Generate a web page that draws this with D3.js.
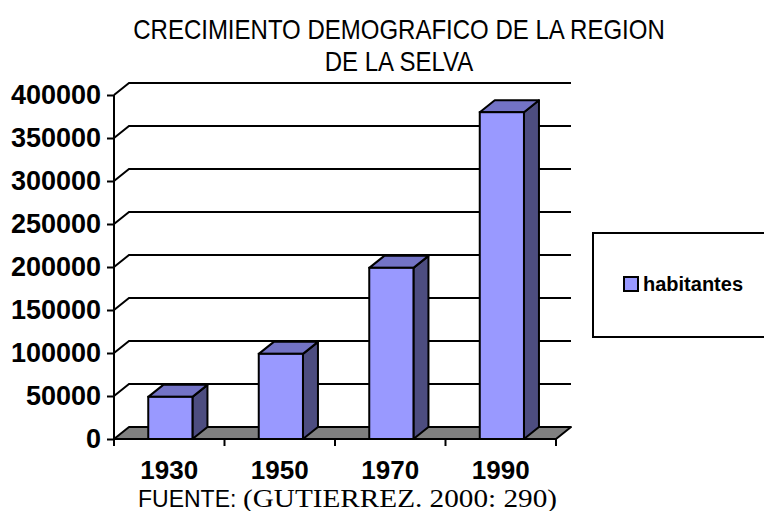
<!DOCTYPE html>
<html>
<head>
<meta charset="utf-8">
<script src="https://cdn.jsdelivr.net/npm/d3@7"></script>
<style>
body { margin: 0; background: #fff; }
svg { display: block; }
</style>
</head>
<body>
<div id="chart"></div>
<script>
// data
var years = ["1930", "1950", "1970", "1990"];
var habitantes = [49000, 99000, 199000, 380000];
var yTicks = [0, 50000, 100000, 150000, 200000, 250000, 300000, 350000, 400000];
var titleLines = ["CRECIMIENTO DEMOGRAFICO DE LA REGION", "DE LA SELVA"];
var seriesName = "habitantes";
var fuenteLabel = "FUENTE:";
var fuenteRef = "(GUTIERREZ. 2000: 290)";

var w = 764, h = 511;
var DX = 15, DY = -12;   // 3d depth offset
var sans = "'Liberation Sans', Arial, sans-serif";
var serif = "'Liberation Serif', 'Times New Roman', serif";

var svg = d3.select("#chart").append("svg")
    .attr("width", w)
    .attr("height", h);

var xScale = d3.scaleBand()
    .domain(years)
    .range([114, 556]);

var yScale = d3.scaleLinear()
    .domain([0, 400000])
    .range([439, 95]);

var y0 = yScale(0);
var xLeft = xScale.range()[0], xRight = xScale.range()[1];

//FLOOR
svg.append("polygon")
    .attr("points", [[xLeft, y0], [xRight, y0], [xRight + DX, y0 + DY], [xLeft + DX, y0 + DY]].join(" "))
    .attr("fill", "#808080")
    .attr("stroke", "#000")
    .attr("stroke-width", 2)
    .attr("stroke-linejoin", "round");

//BACK WALL GRID
svg.append("g")
    .selectAll("path")
    .data(yTicks.filter(function (d) { return d > 0; }))
    .enter().append("path")
    .attr("d", function (d) {
        var yy = yScale(d);
        return "M" + xLeft + "," + yy + "L" + (xLeft + DX) + "," + (yy + DY) + "L" + (xRight + DX) + "," + (yy + DY);
    })
    .attr("fill", "none")
    .attr("stroke", "#000")
    .attr("stroke-width", 2);

//Y AXIS
var yAxis = d3.axisLeft(yScale)
    .tickValues(yTicks)
    .tickSize(7)
    .tickPadding(6)
    .tickFormat(d3.format("d"));

var gy = svg.append("g")
    .attr("transform", "translate(" + xLeft + ",0)")
    .call(yAxis);
gy.select(".domain").attr("d", "M0," + yScale(400000) + "V" + (y0 + 7)).attr("stroke-width", 2);
gy.selectAll(".tick line").attr("stroke-width", 2);
gy.selectAll("text")
    .attr("font-family", sans)
    .attr("font-size", 27)
    .attr("font-weight", "bold")
    .attr("fill", "#000");

//X AXIS
var xAxis = d3.axisBottom(xScale).tickSize(0).tickPadding(0);
var gx = svg.append("g")
    .attr("transform", "translate(0," + y0 + ")")
    .call(xAxis);
gx.select(".domain").remove();
gx.selectAll("text")
    .attr("y", 40)
    .attr("dy", 0)
    .attr("font-family", sans)
    .attr("font-size", 26)
    .attr("font-weight", "bold")
    .attr("fill", "#000");

// tick marks between categories
var bounds = years.map(function (d) { return xScale(d); }).concat([xRight]);
svg.append("g")
    .selectAll("line")
    .data(bounds)
    .enter().append("line")
    .attr("x1", function (d) { return d; })
    .attr("x2", function (d) { return d; })
    .attr("y1", y0)
    .attr("y2", y0 + 7)
    .attr("stroke", "#000")
    .attr("stroke-width", 2);

//BARS
var bw = xScale.bandwidth() * 0.4;
var bOff = xScale.bandwidth() * 0.31;
var bars = svg.append("g")
    .selectAll("g")
    .data(years.map(function (d, i) { return { year: d, v: habitantes[i] }; }))
    .enter().append("g");

bars.append("polygon")
    .attr("points", function (d) {
        var bx = xScale(d.year) + bOff + bw, yy = yScale(d.v);
        return [[bx, yy], [bx + DX, yy + DY], [bx + DX, y0 + DY], [bx, y0]].join(" ");
    })
    .attr("fill", "#4d4d80")
    .attr("stroke", "#000")
    .attr("stroke-width", 2)
    .attr("stroke-linejoin", "round");

bars.append("polygon")
    .attr("points", function (d) {
        var bx = xScale(d.year) + bOff, yy = yScale(d.v);
        return [[bx, yy], [bx + DX, yy + DY], [bx + bw + DX, yy + DY], [bx + bw, yy]].join(" ");
    })
    .attr("fill", "#7373c6")
    .attr("stroke", "#000")
    .attr("stroke-width", 2)
    .attr("stroke-linejoin", "round");

bars.append("rect")
    .attr("x", function (d) { return xScale(d.year) + bOff; })
    .attr("y", function (d) { return yScale(d.v); })
    .attr("width", bw)
    .attr("height", function (d) { return y0 - yScale(d.v); })
    .attr("fill", "#9999ff")
    .attr("stroke", "#000")
    .attr("stroke-width", 2);

//TITLE  (a bit taller than plain Arial in the original)
svg.append("g")
    .selectAll("text")
    .data(titleLines)
    .enter().append("text")
    .attr("transform", function (d, i) { return "translate(399," + (39 + i * 32) + ") scale(1,1.15)"; })
    .attr("text-anchor", "middle")
    .attr("font-family", sans)
    .attr("font-size", 24)
    .text(function (d) { return d; });

//LEGEND
var leg = svg.append("g");
leg.append("rect")
    .attr("x", 593).attr("y", 233)
    .attr("width", 180).attr("height", 104)
    .attr("fill", "#fff")
    .attr("stroke", "#000")
    .attr("stroke-width", 2);
leg.append("rect")
    .attr("x", 624).attr("y", 277)
    .attr("width", 14).attr("height", 14)
    .attr("fill", "#9999ff")
    .attr("stroke", "#000")
    .attr("stroke-width", 2);
leg.append("text")
    .attr("x", 643).attr("y", 291)
    .attr("font-family", sans)
    .attr("font-size", 20)
    .attr("font-weight", "bold")
    .text(seriesName);

//SOURCE
svg.append("text")
    .attr("x", 138).attr("y", 507)
    .attr("font-family", sans)
    .attr("font-size", 23)
    .text(fuenteLabel);
svg.append("text")
    .attr("x", 243).attr("y", 507)
    .attr("font-family", serif)
    .attr("font-size", 25)
    .attr("textLength", 314)
    .attr("lengthAdjust", "spacingAndGlyphs")
    .text(fuenteRef);
</script>
</body>
</html>
